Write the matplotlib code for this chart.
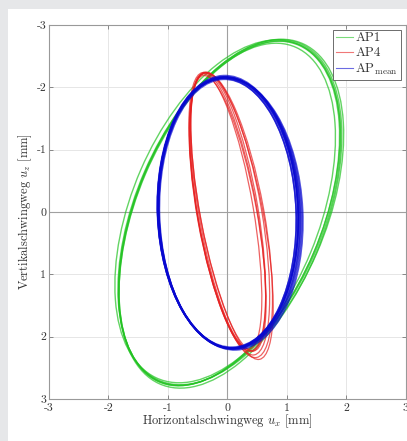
import matplotlib
matplotlib.use('Agg')
import matplotlib.pyplot as plt
from matplotlib.patches import Ellipse, Rectangle
from matplotlib.lines import Line2D

plt.rcParams['font.family'] = ['cmr10', 'DejaVu Serif']
plt.rcParams['mathtext.fontset'] = 'cm'
plt.rcParams['axes.unicode_minus'] = False

# orbit cycles: centre x, centre y, major, minor, angle (deg)
ap1_cx = [0.03, 0.06, 0.00, 0.05, 0.01, 0.04]
ap1_cy = [0.02, 0.00, 0.04, 0.03, -0.01, 0.02]
ap1_w = [5.88, 5.92, 5.84, 5.95, 5.86, 5.90]
ap1_h = [3.12, 3.18, 3.06, 3.16, 3.22, 3.10]
ap1_ang = [114.0, 114.6, 113.4, 113.8, 114.4, 114.2]

ap4_cx = [0.00, 0.02, 0.04, 0.06, -0.02, 0.08, 0.01]
ap4_cy = [0.00, 0.02, 0.03, 0.05, -0.01, 0.06, 0.00]
ap4_w = [4.55, 4.50, 4.60, 4.65, 4.48, 4.70, 4.52]
ap4_h = [1.00, 0.95, 1.08, 1.12, 0.92, 1.05, 1.02]
ap4_ang = [79.4, 79.0, 79.6, 79.2, 79.8, 78.6, 80.0]

apm_cx = [0.02, 0.03, 0.01, 0.04, 0.02, 0.00, 0.05, 0.02, 0.03, 0.01]
apm_cy = [0.02, 0.01, 0.03, 0.02, 0.00, 0.02, 0.03, 0.01, 0.02, 0.00]
apm_w = [4.34, 4.36, 4.32, 4.35, 4.38, 4.33, 4.37, 4.35, 4.36, 4.34]
apm_h = [2.34, 2.38, 2.30, 2.42, 2.36, 2.32, 2.44, 2.34, 2.40, 2.37]
apm_ang = [87.7, 87.5, 88.0, 87.3, 87.8, 87.6, 87.2, 87.9, 87.4, 87.7]

ticks = [-3, -2, -1, 0, 1, 2, 3]
tick_labels = ['-3', '-2', '-1', '0', '1', '2', '3']

fig = plt.figure(figsize=(4.07, 4.41), dpi=100, facecolor='#e6e7e9')
fig.patches.append(Rectangle((8 / 407, 0), 1, 1 - 9 / 441, transform=fig.transFigure,
                             facecolor='white', edgecolor='none', zorder=-10))
ax = fig.add_axes([49 / 407, 1 - 399 / 441, 356.5 / 407, 374 / 441])
ax.set_zorder(1)

series = [
    (ap1_cx, ap1_cy, ap1_w, ap1_h, ap1_ang, '#22c322', 1.0, 'AP1'),
    (ap4_cx, ap4_cy, ap4_w, ap4_h, ap4_ang, '#e61e1e', 0.9, 'AP4'),
    (apm_cx, apm_cy, apm_w, apm_h, apm_ang, '#0808d0', 1.2, r'AP$_{\mathrm{mean}}$'),
]
handles = []
for cx, cy, w, h, ang, col, lw, name in series:
    for i in range(len(cx)):
        ax.add_patch(Ellipse((cx[i], cy[i]), w[i], h[i], angle=ang[i], fill=False,
                             edgecolor=col, lw=lw, alpha=0.7, zorder=3))
    handles.append(Line2D([], [], color=col, lw=0.8, alpha=0.6, label=name))

ax.axhline(0, color='#a0a0a0', lw=0.8, zorder=1)
ax.axvline(0, color='#a0a0a0', lw=0.8, zorder=1)

ax.set_xlim(-3, 3)
ax.set_ylim(3, -3)
ax.set_xticks(ticks)
ax.set_xticklabels(tick_labels)
ax.set_yticks(ticks)
ax.set_yticklabels(tick_labels)
ax.grid(True, color='#e6e6e6', lw=0.7)
ax.set_axisbelow(True)
ax.tick_params(direction='in', top=True, right=True, length=3, width=0.6,
               color='#777777', labelcolor='#333333', labelsize=8.5, pad=2)
ax.tick_params(axis='x', pad=3)
for s in ax.spines.values():
    s.set_color('#999999')
    s.set_linewidth(0.8)

ax.set_xlabel(r'Horizontalschwingweg $u_x$ [mm]', fontsize=9, color='#333333', labelpad=0)
ax.set_ylabel(r'Vertikalschwingweg $u_z$ [mm]', fontsize=9, color='#333333', labelpad=2)

leg = ax.legend(handles=handles, loc='upper right', fontsize=9.5, fancybox=False,
                framealpha=1, edgecolor='#555555', handlelength=1.3, handletextpad=0.2,
                borderpad=0.2, labelspacing=0.2, borderaxespad=0.35)
leg.get_frame().set_linewidth(0.6)
for t in leg.get_texts():
    t.set_color('#333333')

fig.savefig('out.png', dpi=100, facecolor=fig.get_facecolor())
